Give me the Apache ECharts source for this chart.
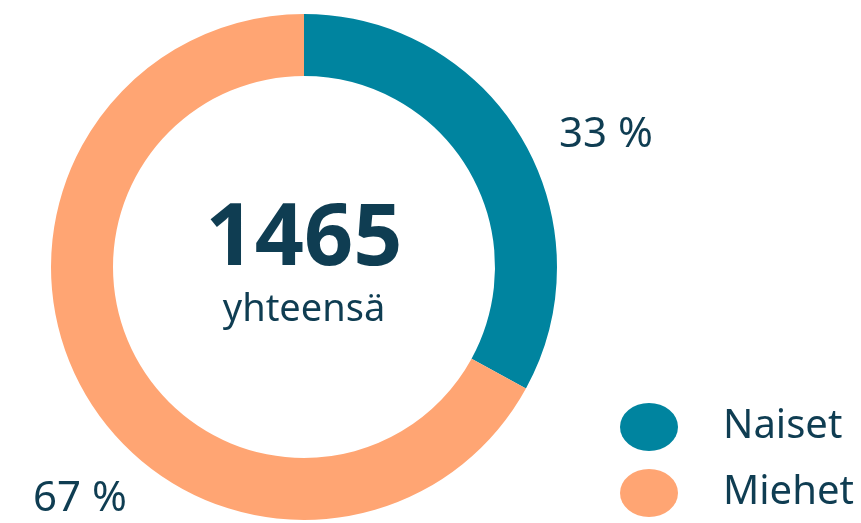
<!DOCTYPE html>
<html>
<head>
<meta charset="utf-8">
<script src="https://cdn.jsdelivr.net/npm/echarts@6/dist/echarts.min.js"></script>
<style>
  html, body { margin: 0; padding: 0; background: #fff; }
  #main { width: 861px; height: 523px; }
</style>
</head>
<body>
<div id="main"></div>
<script>
// data
var categories = ['Naiset', 'Miehet'];
var values = [483, 982];
var colors = ['#00849f', '#ffa573'];
var totalLabel = 'yhteensä';

var textColor = '#0f3d52';
var fontFam = '"Noto Sans", sans-serif';

var total = values.reduce(function (a, b) { return a + b; }, 0);

// label anchor points (text center)
var labelPos = [[606, 135], [80, 499]];

var myChart = echarts.init(document.getElementById('main'));

var option = {
    animation: false,
    legend: {
        orient: 'vertical',
        left: 620,
        top: 403,
        padding: 0,
        itemWidth: 58,
        itemHeight: 48,
        itemGap: 18,
        icon: 'path://M0,50 A50,50 0 1,1 100,50 A50,50 0 1,1 0,50 Z',
        symbolKeepAspect: false,
        selectedMode: false,
        textStyle: {
            color: textColor,
            fontSize: 40,
            fontFamily: fontFam,
            padding: [0, 0, 0, 40]
        },
        data: categories
    },
    graphic: [
        {
            type: 'text',
            style: {
                text: String(total),
                x: 304, y: 240,
                align: 'center', verticalAlign: 'middle',
                fill: textColor,
                font: 'bold 86px ' + fontFam
            }
        },
        {
            type: 'text',
            style: {
                text: totalLabel,
                x: 304, y: 310,
                align: 'center', verticalAlign: 'middle',
                fill: textColor,
                font: '38px ' + fontFam
            }
        }
    ],
    series: [{
        type: 'pie',
        center: [304, 267],
        radius: [191, 253],
        startAngle: 90,
        clockwise: true,
        silent: true,
        avoidLabelOverlap: false,
        label: {
            show: true,
            position: 'outside',
            color: textColor,
            fontSize: 42,
            fontFamily: fontFam,
            formatter: function (p) { return Math.round(p.percent) + ' %'; }
        },
        labelLine: { show: false },
        labelLayout: function (p) {
            var pos = labelPos[p.dataIndex];
            return { x: pos[0], y: pos[1], align: 'center', verticalAlign: 'middle' };
        },
        data: categories.map(function (c, i) {
            return { name: c, value: values[i], itemStyle: { color: colors[i] } };
        })
    }]
};

myChart.setOption(option);

window.onresize = function () {
    myChart.resize();
};
</script>
</body>
</html>
